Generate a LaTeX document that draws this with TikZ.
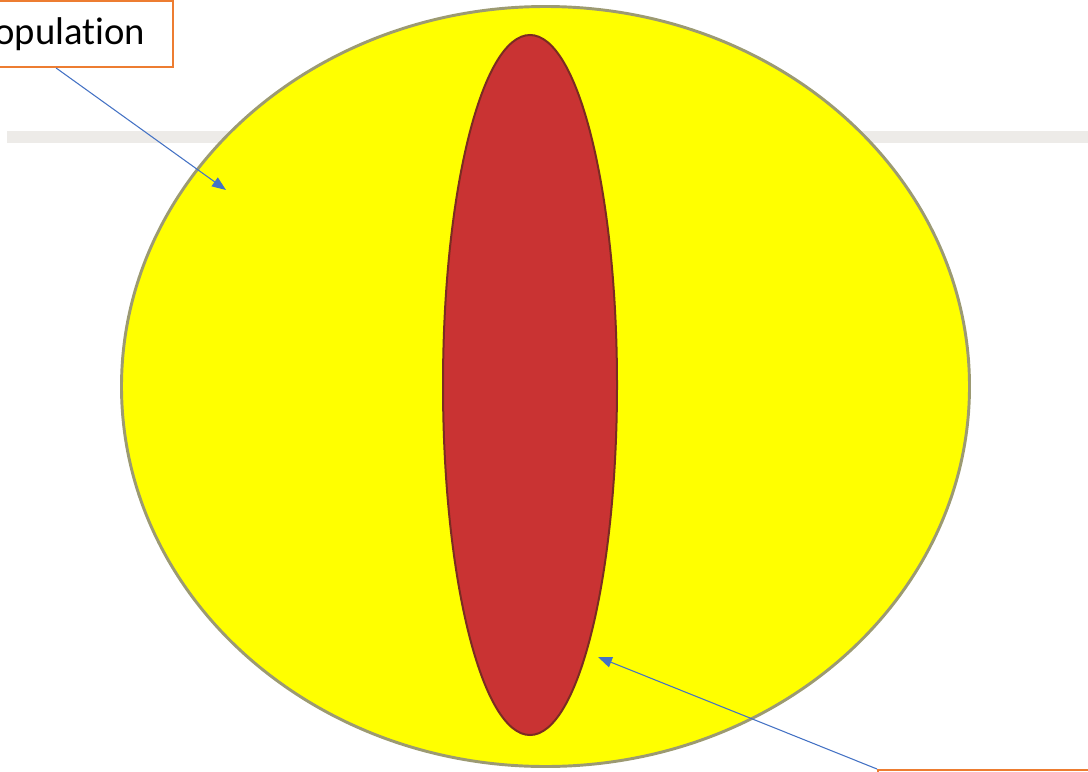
\documentclass[tikz,border=0pt]{standalone}
\usepackage{fontspec}
\setsansfont{Carlito}[Ligatures=NoCommon]
\usetikzlibrary{arrows.meta,positioning,shapes.geometric}
\definecolor{bodyYellow}{HTML}{FFFF00}
\definecolor{bodyRim}{HTML}{9C9A72}
\definecolor{coreRed}{HTML}{C93333}
\definecolor{coreRim}{HTML}{7A2C22}
\definecolor{calloutOrange}{HTML}{ED7D31}
\definecolor{pointerBlue}{HTML}{4472C4}
\definecolor{bandGrey}{HTML}{EDEBE8}
\tikzset{
  >={Triangle[length=10.5pt,width=8pt]},
  callout/.style={draw=calloutOrange, line width=1.5pt, fill=white,
                  font=\sffamily\fontsize{29}{33}\selectfont, text=black,
                  inner xsep=21pt, inner ysep=0pt, minimum height=49.5pt},
  blob/.style={ellipse, inner sep=0pt},
  pointer/.style={->, draw=pointerBlue, line width=0.8pt}
}

\begin{document}
\begin{tikzpicture}[x=0.75pt,y=-0.75pt]

% page frame (pixel grid, y downwards)
\path[use as bounding box, clip] (0,0) rectangle (1088,771);

% ------------------------------------------------------------
% background band
% ------------------------------------------------------------
\draw[bandGrey, line width=9pt] (7,137) -- (1088,137);

% ------------------------------------------------------------
% population body and core
% ------------------------------------------------------------
\node[blob, draw=bodyRim, line width=2.2pt, fill=bodyYellow,
      minimum width=636pt, minimum height=570pt] (body) at (545.5,386.5) {};
\node[blob, draw=coreRim, line width=1.5pt, fill=coreRed,
      minimum width=130.5pt, minimum height=525pt] (core) at (530,385) {};

% ------------------------------------------------------------
% callouts
% ------------------------------------------------------------
\node[callout, anchor=east] (pop) at (174,34) {Population};
\node[callout, anchor=north west, minimum width=160pt] (sub) at (877,769) {};

\coordinate (bodyPt) at (226,190);
\coordinate (corePt) at (598,657);

\draw[pointer] ([xshift=-3pt]pop.south) -- (bodyPt);
\draw[pointer] (sub.north west) -- (corePt);

\end{tikzpicture}
\end{document}
